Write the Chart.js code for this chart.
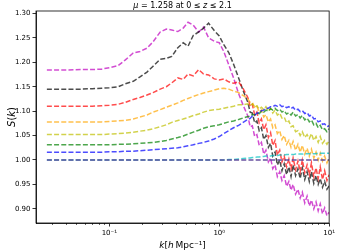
<!DOCTYPE html>
<html>
<head>
<meta charset="utf-8">
<script src="https://cdn.jsdelivr.net/npm/chart.js@4.4.1/dist/chart.umd.min.js"></script>
<style>
    html, body { margin: 0; padding: 0; background: #fff; }
    #wrap { width: 337px; height: 252px; position: relative; }
</style>
</head>
<body>
<div id="wrap"><canvas id="chart"></canvas></div>
<script>
const kValues = [0.027, 0.04, 0.055, 0.07, 0.085, 0.1, 0.12, 0.14, 0.165, 0.19,
    0.22, 0.25, 0.29, 0.33, 0.37, 0.42, 0.47, 0.52, 0.58, 0.65,
    0.72, 0.8, 0.9, 1.0, 1.1, 1.22, 1.35, 1.5, 1.65,
    1.82, 1.91, 2.0, 2.1, 2.2, 2.31, 2.42, 2.54, 2.66, 2.8,
    2.93, 3.07, 3.22, 3.38, 3.55, 3.72, 3.9, 4.1, 4.3, 4.5,
    4.7, 4.95, 5.2, 5.45, 5.7, 6.0, 6.3, 6.6, 6.9, 7.25,
    7.6, 7.95, 8.3, 8.7, 9.1, 9.55, 10.0];

const sMagenta = [1.184, 1.184, 1.185, 1.185, 1.186, 1.189, 1.193, 1.205, 1.219, 1.222,
    1.229, 1.242, 1.262, 1.268, 1.266, 1.263, 1.270, 1.282, 1.276, 1.262,
    1.272, 1.250, 1.243, 1.240, 1.222, 1.195, 1.168, 1.136, 1.112,
    1.090, 1.068, 1.070, 1.048, 1.052, 1.030, 1.036, 1.012, 1.020, 0.996,
    1.004, 0.982, 0.990, 0.966, 0.976, 0.958, 0.968, 0.946, 0.956, 0.938,
    0.950, 0.930, 0.940, 0.922, 0.934, 0.912, 0.926, 0.906, 0.918, 0.900,
    0.914, 0.896, 0.910, 0.890, 0.902, 0.886, 0.893];
const sBlack = [1.145, 1.145, 1.145, 1.146, 1.147, 1.148, 1.150, 1.156, 1.161, 1.170,
    1.180, 1.192, 1.206, 1.208, 1.212, 1.230, 1.240, 1.233, 1.255, 1.262,
    1.270, 1.280, 1.265, 1.254, 1.236, 1.220, 1.196, 1.168, 1.142,
    1.118, 1.098, 1.096, 1.076, 1.080, 1.060, 1.066, 1.042, 1.050, 1.026,
    1.034, 1.008, 1.016, 0.990, 1.000, 0.978, 0.992, 0.970, 0.986, 0.966,
    0.990, 0.968, 0.982, 0.962, 0.984, 0.960, 0.976, 0.956, 0.976, 0.952,
    0.968, 0.950, 0.962, 0.944, 0.956, 0.940, 0.947];
const sRed = [1.110, 1.110, 1.110, 1.110, 1.111, 1.112, 1.114, 1.118, 1.124, 1.128,
    1.133, 1.138, 1.145, 1.150, 1.158, 1.168, 1.165, 1.176, 1.172, 1.185,
    1.176, 1.174, 1.166, 1.164, 1.166, 1.160, 1.157, 1.160, 1.146,
    1.128, 1.110, 1.114, 1.092, 1.098, 1.076, 1.084, 1.062, 1.072, 1.046,
    1.056, 1.030, 1.040, 1.010, 1.020, 0.996, 1.008, 0.986, 1.002, 0.982,
    1.004, 0.980, 0.998, 0.976, 1.000, 0.974, 0.990, 0.970, 0.994, 0.966,
    0.984, 0.962, 0.986, 0.960, 0.978, 0.958, 0.970];
const sOrange = [1.078, 1.078, 1.078, 1.078, 1.078, 1.079, 1.080, 1.081, 1.084, 1.088,
    1.092, 1.098, 1.103, 1.108, 1.112, 1.117, 1.122, 1.126, 1.130, 1.134,
    1.137, 1.140, 1.143, 1.146, 1.147, 1.145, 1.141, 1.138, 1.132,
    1.125, 1.118, 1.118, 1.108, 1.110, 1.098, 1.102, 1.088, 1.093, 1.078,
    1.084, 1.066, 1.072, 1.054, 1.060, 1.042, 1.050, 1.032, 1.040, 1.026,
    1.038, 1.020, 1.032, 1.016, 1.030, 1.012, 1.024, 1.008, 1.022, 1.004,
    1.016, 1.000, 1.014, 0.998, 1.008, 0.994, 1.004];
const sYellow = [1.052, 1.052, 1.052, 1.052, 1.052, 1.053, 1.054, 1.055, 1.057, 1.059,
    1.061, 1.064, 1.068, 1.072, 1.077, 1.081, 1.084, 1.087, 1.091, 1.094,
    1.098, 1.101, 1.103, 1.104, 1.106, 1.108, 1.110, 1.113, 1.113,
    1.115, 1.111, 1.115, 1.108, 1.111, 1.104, 1.108, 1.103, 1.109, 1.100,
    1.106, 1.096, 1.102, 1.092, 1.096, 1.086, 1.088, 1.076, 1.080, 1.068,
    1.070, 1.058, 1.060, 1.050, 1.058, 1.046, 1.052, 1.044, 1.054, 1.040,
    1.048, 1.036, 1.048, 1.034, 1.040, 1.032, 1.040];
const sGreen = [1.031, 1.031, 1.031, 1.031, 1.031, 1.031, 1.032, 1.032, 1.033, 1.034,
    1.035, 1.036, 1.038, 1.040, 1.043, 1.046, 1.049, 1.053, 1.057, 1.061,
    1.065, 1.068, 1.070, 1.072, 1.075, 1.078, 1.080, 1.083, 1.086,
    1.089, 1.089, 1.093, 1.092, 1.096, 1.095, 1.100, 1.098, 1.102, 1.100,
    1.105, 1.102, 1.106, 1.101, 1.104, 1.098, 1.101, 1.094, 1.097, 1.092,
    1.098, 1.090, 1.093, 1.086, 1.091, 1.082, 1.086, 1.078, 1.082, 1.072,
    1.075, 1.066, 1.071, 1.062, 1.064, 1.058, 1.064];
const sBlue = [1.016, 1.016, 1.016, 1.016, 1.016, 1.017, 1.017, 1.018, 1.018, 1.019,
    1.020, 1.021, 1.022, 1.023, 1.024, 1.025, 1.027, 1.029, 1.031, 1.034,
    1.036, 1.039, 1.043, 1.048, 1.054, 1.060, 1.066, 1.071, 1.077,
    1.083, 1.085, 1.090, 1.091, 1.096, 1.097, 1.101, 1.102, 1.106, 1.106,
    1.109, 1.109, 1.112, 1.110, 1.113, 1.109, 1.111, 1.107, 1.109, 1.105,
    1.108, 1.102, 1.104, 1.099, 1.101, 1.095, 1.097, 1.090, 1.092, 1.084,
    1.085, 1.078, 1.080, 1.073, 1.074, 1.068, 1.070];
const sCyan = [1.000, 1.000, 1.000, 1.000, 1.000, 1.000, 1.000, 1.000, 1.000, 1.000,
    1.000, 1.000, 1.000, 1.000, 1.000, 1.000, 1.000, 1.000, 1.000, 1.000,
    1.000, 1.000, 1.000, 1.000, 1.000, 1.001, 1.001, 1.002, 1.003,
    1.004, 1.004, 1.005, 1.005, 1.006, 1.006, 1.007, 1.007, 1.008, 1.008,
    1.008, 1.009, 1.009, 1.009, 1.010, 1.010, 1.010, 1.011, 1.011, 1.011,
    1.011, 1.012, 1.012, 1.012, 1.012, 1.013, 1.013, 1.013, 1.013, 1.013,
    1.013, 1.014, 1.014, 1.014, 1.014, 1.014, 1.014];
const sPurple = [1.000, 1.000, 1.000, 1.000, 1.000, 1.000, 1.000, 1.000, 1.000, 1.000,
    1.000, 1.000, 1.000, 1.000, 1.000, 1.000, 1.000, 1.000, 1.000, 1.000,
    1.000, 1.000, 1.000, 1.000, 1.000, 1.000, 1.000, 1.000, 1.000,
    1.000, 1.000, 1.000, 1.000, 1.000, 1.000, 1.000, 1.000, 1.000, 1.000,
    1.000, 1.000, 1.000, 1.000, 1.000, 1.000, 1.000, 1.000, 1.000, 1.000,
    1.000, 1.000, 1.000, 1.000, 1.000, 1.000, 1.000, 1.000, 1.000, 1.000,
    1.000, 1.000, 1.000, 1.000, 1.000, 1.000, 1.000];

const yTicks = [0.90, 0.95, 1.00, 1.05, 1.10, 1.15, 1.20, 1.25, 1.30];
const xMajorTicks = [0.1, 1, 10];
const xTickLabels = ['10\u207B\u00B9', '10\u2070', '10\u00B9'];
const xMinorTicks = [0.03, 0.04, 0.05, 0.06, 0.07, 0.08, 0.09,
    0.2, 0.3, 0.4, 0.5, 0.6, 0.7, 0.8, 0.9,
    2, 3, 4, 5, 6, 7, 8, 9];

const FONT = 'DejaVu Sans';

function series(label, values, color) {
    return {
        label: label,
        data: kValues.map((k, i) => ({x: k, y: values[i]})),
        borderColor: color,
        borderWidth: 1.5,
        borderDash: [5, 2.2],
        pointRadius: 0,
        tension: 0,
        fill: false
    };
}

function drawMixed(ctx, parts, size, x, y) {
    parts.forEach(p => {
        ctx.font = (p[1] ? 'italic ' : '') + size + 'px ' + FONT;
        ctx.fillText(p[0], x, y);
        x += ctx.measureText(p[0]).width;
    });
}

function mixedWidth(ctx, parts, size) {
    let w = 0;
    parts.forEach(p => {
        ctx.font = (p[1] ? 'italic ' : '') + size + 'px ' + FONT;
        w += ctx.measureText(p[0]).width;
    });
    return w;
}

const frame = {
    id: 'frame',
    afterDraw(chart) {
        const ctx = chart.ctx;
        const a = chart.chartArea;
        const xs = chart.scales.x;
        ctx.save();
        ctx.strokeStyle = '#000';
        ctx.lineWidth = 0.8;
        ctx.strokeRect(a.left, a.top, a.right - a.left, a.bottom - a.top);
        ctx.beginPath();
        xMinorTicks.forEach(v => {
            const px = Math.round(xs.getPixelForValue(v)) + 0.5;
            ctx.moveTo(px, a.bottom);
            ctx.lineTo(px, a.bottom + 2);
        });
        ctx.lineWidth = 0.6;
        ctx.stroke();

        ctx.fillStyle = '#000';
        ctx.textBaseline = 'alphabetic';
        const cx = (a.left + a.right) / 2;

        // title, x label, y label with italic math letters
        const title = [['\u03BC', true], [' = 1.258 at 0 \u2264 ', false], ['z', true], [' \u2264 2.1', false]];
        drawMixed(ctx, title, 8, cx - mixedWidth(ctx, title, 8) / 2, 8);

        const xl = [['k', true], ['[', false], ['h', true], ['\u2009Mpc\u207B\u00B9]', false]];
        drawMixed(ctx, xl, 9, cx - mixedWidth(ctx, xl, 9) / 2, 248);

        ctx.translate(15, (a.top + a.bottom) / 2);
        ctx.rotate(-Math.PI / 2);
        const yl = [['S', true], ['(', false], ['k', true], [')', false]];
        drawMixed(ctx, yl, 10, -mixedWidth(ctx, yl, 10) / 2, 0);
        ctx.restore();
    }
};

const ctx = document.getElementById('chart').getContext('2d');
new Chart(ctx, {
    type: 'line',
    data: {
        datasets: [
            series('purple', sPurple, 'rgba(88, 62, 150, 0.9)'),
            series('cyan', sCyan, 'rgba(0, 191, 191, 0.7)'),
            series('blue', sBlue, 'rgba(0, 0, 255, 0.7)'),
            series('green', sGreen, 'rgba(0, 128, 0, 0.7)'),
            series('yellow', sYellow, 'rgba(191, 191, 0, 0.7)'),
            series('orange', sOrange, 'rgba(255, 165, 0, 0.7)'),
            series('red', sRed, 'rgba(255, 0, 0, 0.7)'),
            series('black', sBlack, 'rgba(0, 0, 0, 0.7)'),
            series('magenta', sMagenta, 'rgba(191, 0, 191, 0.7)')
        ]
    },
    options: {
        responsive: true,
        maintainAspectRatio: false,
        animation: false,
        layout: {padding: {left: 0, top: 11, right: 6, bottom: 0}},
        plugins: {
            legend: {display: false},
            tooltip: {enabled: false},
            title: {display: false}
        },
        scales: {
            x: {
                type: 'logarithmic',
                min: 0.0215,
                max: 10,
                afterBuildTicks: scale => {
                    scale.ticks = xMajorTicks.map(v => ({value: v}));
                },
                afterFit: scale => { scale.height = 29; },
                ticks: {
                    autoSkip: false,
                    maxRotation: 0,
                    padding: 2,
                    color: '#000',
                    font: {family: FONT, size: 7},
                    callback: (v) => {
                        const i = xMajorTicks.indexOf(v);
                        return i >= 0 ? xTickLabels[i] : '';
                    }
                },
                grid: {drawOnChartArea: false, drawTicks: true, tickLength: 3.5, color: '#000', lineWidth: 0.8},
                border: {display: true, color: '#000', width: 0.8}
            },
            y: {
                type: 'linear',
                min: 0.871,
                max: 1.305,
                afterBuildTicks: scale => {
                    scale.ticks = yTicks.map(v => ({value: v}));
                },
                afterFit: scale => { scale.width = 36; },
                ticks: {
                    padding: 2,
                    color: '#000',
                    font: {family: FONT, size: 7},
                    callback: v => v.toFixed(2)
                },
                grid: {drawOnChartArea: false, drawTicks: true, tickLength: 3.5, color: '#000', lineWidth: 0.8},
                border: {display: true, color: '#000', width: 0.8}
            }
        }
    },
    plugins: [frame]
});
</script>
</body>
</html>
